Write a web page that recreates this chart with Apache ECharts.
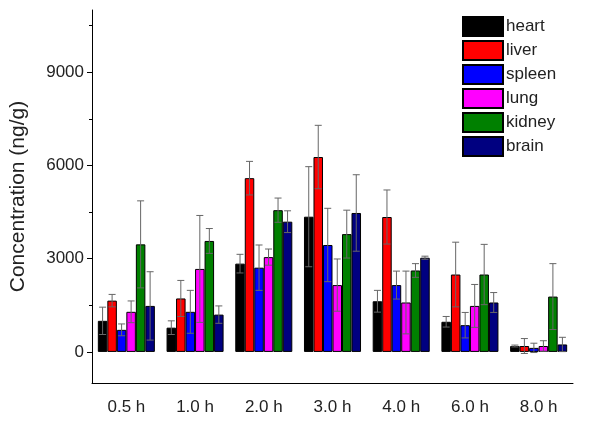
<!DOCTYPE html>
<html>
<head>
<meta charset="utf-8">
<script src="https://cdn.jsdelivr.net/npm/echarts@6/dist/echarts.min.js"></script>
<style>html,body{margin:0;padding:0;background:#fff}#c{width:600px;height:422px}</style>
</head>
<body>
<div id="c"></div>
<script>
var categories = ['0.5 h','1.0 h','2.0 h','3.0 h','4.0 h','6.0 h','8.0 h'];
var seriesNames = ['heart','liver','spleen','lung','kidney','brain'];
var heart = [1000, 780, 2840, 4350, 1630, 970, 190];
var heartErr = [440, 220, 300, 1610, 350, 170, 30];
var liver = [1650, 1720, 5590, 6270, 4340, 2490, 190];
var liverErr = [200, 580, 540, 1020, 870, 1040, 240];
var spleen = [710, 1290, 2710, 3440, 2150, 860, 130];
var spleenErr = [190, 690, 730, 1180, 450, 410, 150];
var lung = [1290, 2670, 3050, 2150, 1590, 1480, 190];
var lungErr = [350, 1720, 260, 840, 1010, 690, 170];
var kidney = [3460, 3570, 4560, 3790, 2620, 2490, 1780];
var kidneyErr = [1400, 400, 390, 770, 220, 970, 1060];
var brain = [1480, 1200, 4190, 4470, 3030, 1590, 240];
var brainErr = [1100, 280, 350, 1230, 50, 320, 230];
var yMajorTicks = [0, 3000, 6000, 9000];
var yMinorTicks = [1500, 4500, 7500, 10500];

var values = [heart, liver, spleen, lung, kidney, brain];
var errors = [heartErr, liverErr, spleenErr, lungErr, kidneyErr, brainErr];
var colors = ['#000000', '#ff0000', '#0000ff', '#ff00ff', '#008000', '#000080'];
var CAT_GAP = 0.17;
var N = seriesNames.length;

var series = [];
seriesNames.forEach(function (name, i) {
  series.push({
    name: name,
    type: 'bar',
    data: values[i],
    barGap: '0%',
    barCategoryGap: (CAT_GAP * 100) + '%',
    itemStyle: { color: colors[i], borderColor: '#000', borderWidth: 1 },
    emphasis: { disabled: true },
    z: 2
  });
});
seriesNames.forEach(function (name, i) {
  var errData = values[i].map(function (v, k) { return [k, v - errors[i][k], v + errors[i][k]]; });
  series.push({
    type: 'custom',
    name: name + '_err',
    data: errData,
    z: 5,
    silent: true,
    renderItem: function (params, api) {
      var k = api.value(0);
      var lo = api.coord([k, api.value(1)]);
      var hi = api.coord([k, api.value(2)]);
      var band = api.size([1, 0])[0];
      var bw = band * (1 - CAT_GAP) / N;
      var x = lo[0] - band * (1 - CAT_GAP) / 2 + bw * (i + 0.5);
      var cap = 3.5;
      var st = { stroke: '#666', lineWidth: 1 };
      return {
        type: 'group',
        children: [
          { type: 'line', shape: { x1: x, y1: lo[1], x2: x, y2: hi[1] }, style: st },
          { type: 'line', shape: { x1: x - cap, y1: hi[1], x2: x + cap, y2: hi[1] }, style: st },
          { type: 'line', shape: { x1: x - cap, y1: lo[1], x2: x + cap, y2: lo[1] }, style: st }
        ]
      };
    }
  });
});

var chart = echarts.init(document.getElementById('c'));
chart.setOption({
  animation: false,
  backgroundColor: '#fff',
  textStyle: { fontFamily: 'Liberation Sans, Arial, sans-serif' },
  grid: { left: 89, right: 27, top: 10, bottom: 39 },
  legend: {
    data: seriesNames,
    orient: 'vertical',
    left: 457,
    top: 11,
    itemWidth: 40,
    itemHeight: 19,
    itemGap: 3,
    icon: 'rect',
    textStyle: { fontSize: 17, color: '#222', padding: [0, 0, 0, -2] }
  },
  xAxis: [{
    type: 'category',
    data: categories,
    axisLine: { onZero: false, lineStyle: { color: '#000', width: 1 } },
    axisTick: { alignWithLabel: true, length: 6, lineStyle: { color: '#000' } },
    axisLabel: { fontSize: 17, color: '#222', margin: 16 }
  }, {
    type: 'category',
    data: categories,
    position: 'bottom',
    axisLine: { show: false, onZero: false },
    axisTick: { length: 3, lineStyle: { color: '#000' } },
    axisLabel: { show: false }
  }],
  yAxis: [{
    type: 'value',
    min: -1000,
    max: 11000,
    name: 'Concentration (ng/g)',
    nameLocation: 'middle',
    nameGap: 63,
    nameTextStyle: { fontSize: 21, color: '#222' },
    axisLine: { show: true, lineStyle: { color: '#000', width: 1 } },
    axisTick: { show: true, length: 5, customValues: yMajorTicks, lineStyle: { color: '#000' } },
    axisLabel: { fontSize: 17, color: '#222', margin: 8, customValues: yMajorTicks,
      formatter: function (v) { return String(v); } },
    splitLine: { show: false }
  }, {
    type: 'value',
    min: -1000,
    max: 11000,
    position: 'left',
    axisLine: { show: false },
    axisTick: { show: true, length: 3, customValues: yMinorTicks, lineStyle: { color: '#000' } },
    axisLabel: { show: false },
    splitLine: { show: false }
  }],
  series: series
});
</script>
</body>
</html>
